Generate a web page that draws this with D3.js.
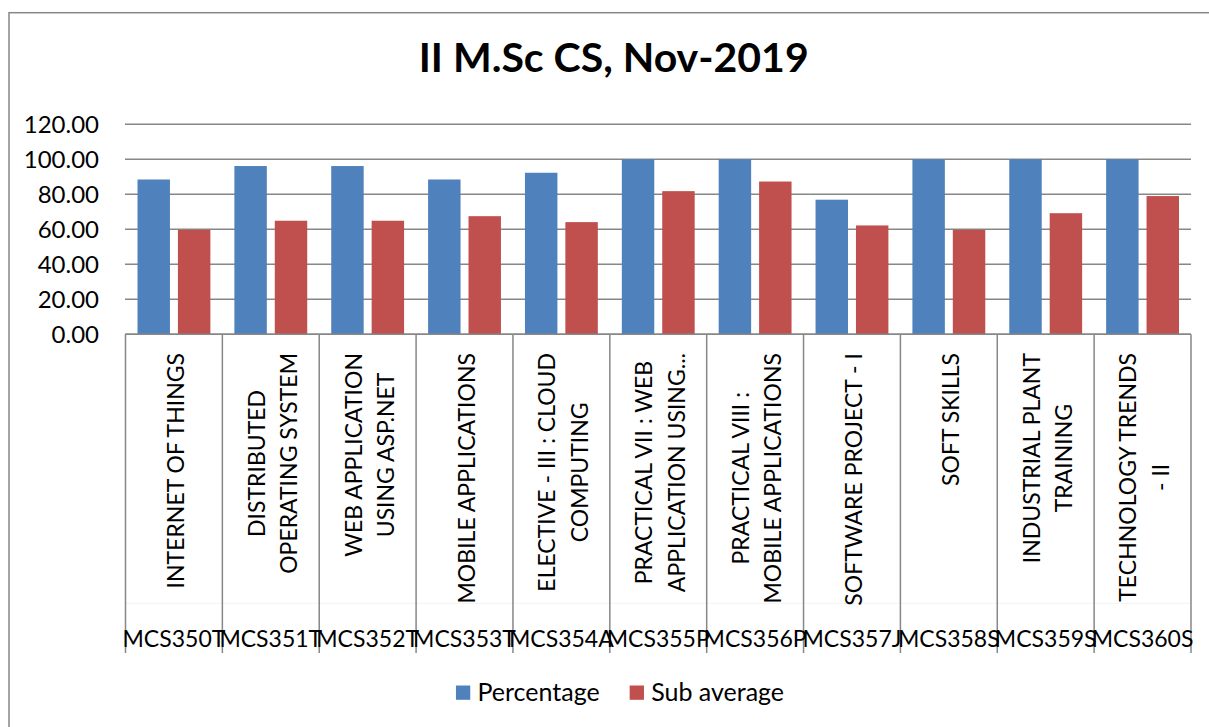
<!DOCTYPE html>
<html>
<head>
<meta charset="utf-8">
<script src="https://cdn.jsdelivr.net/npm/d3@7"></script>
<style>
  body { margin: 0; background: #fff; }
  text { font-family: "Lato", "Open Sans", sans-serif; fill: #000; }
</style>
</head>
<body>
<div id="chart"></div>
<script>
// data
var codes = ["MCS350T", "MCS351T", "MCS352T", "MCS353T", "MCS354A", "MCS355P",
  "MCS356P", "MCS357J", "MCS358S", "MCS359S", "MCS360S"];
var subjects = [
  ["INTERNET OF THINGS"],
  ["DISTRIBUTED", "OPERATING SYSTEM"],
  ["WEB APPLICATION", "USING ASP.NET"],
  ["MOBILE APPLICATIONS"],
  ["ELECTIVE - III : CLOUD", "COMPUTING"],
  ["PRACTICAL VII : WEB", "APPLICATION USING..."],
  ["PRACTICAL VIII :", "MOBILE APPLICATIONS"],
  ["SOFTWARE PROJECT - I"],
  ["SOFT SKILLS"],
  ["INDUSTRIAL PLANT", "TRAINING"],
  ["TECHNOLOGY TRENDS", "- II"]
];
var percentage = [88.46, 96.15, 96.15, 88.46, 92.31, 100, 100, 76.92, 100, 100, 100];
var subAverage = [59.7, 64.9, 64.9, 67.5, 64.1, 81.8, 87.3, 62.2, 59.7, 69.2, 79.0];
var seriesNames = ["Percentage", "Sub average"];
var yTicks = [0, 20, 40, 60, 80, 100, 120];

var svgWidth = 1209;
var svgHeight = 727;

var plot = { left: 125.5, right: 1191, top: 124.3, bottom: 334.3, axisBottom: 653 };
var colors = { "Percentage": "#4F81BD", "Sub average": "#C0504D" };
var gridColor = "#878787";

var svg = d3.select("#chart")
  .append("svg")
  .attr("width", svgWidth)
  .attr("height", svgHeight);

// outer chart border (runs off the right and bottom of the picture)
svg.append("rect")
  .attr("x", 9).attr("y", 12.7)
  .attr("width", 1300).attr("height", 800)
  .attr("fill", "none")
  .attr("stroke", gridColor)
  .attr("stroke-width", 1.5);

// title
svg.append("text")
  .attr("x", 613.7)
  .attr("y", 72)
  .attr("text-anchor", "middle")
  .style("font-size", "41px")
  .style("font-weight", "bold")
  .text("II M.Sc CS, Nov-2019");

// scales
var xScale = d3.scaleBand()
  .domain(codes)
  .range([plot.left, plot.right]);

var xSub = d3.scaleBand()
  .domain(seriesNames)
  .range([0, xScale.bandwidth()])
  .paddingInner(0.197)
  .paddingOuter(0.297);

var yScale = d3.scaleLinear()
  .domain([0, 120])
  .range([plot.bottom, plot.top]);

// gridlines
svg.append("g")
  .selectAll("line")
  .data(yTicks)
  .enter()
  .append("line")
  .attr("x1", plot.left - 0.5)
  .attr("x2", plot.right)
  .attr("y1", d => yScale(d))
  .attr("y2", d => yScale(d))
  .attr("stroke", gridColor)
  .attr("stroke-width", 1.5);

// y labels
var leftAxis = d3.axisLeft(yScale)
  .tickValues(yTicks)
  .tickFormat(d3.format(".2f"))
  .tickSize(0)
  .tickPadding(0);

var yAxisG = svg.append("g")
  .attr("transform", "translate(99, 0)")
  .call(leftAxis);
yAxisG.select(".domain").remove();
yAxisG.selectAll("text")
  .style("font-family", "Lato, sans-serif")
  .style("font-size", "24px")
  .attr("dy", "0.35em");

// bars
var rows = codes.map(function(c, i) {
  return { code: c, values: [
    { name: "Percentage", value: percentage[i] },
    { name: "Sub average", value: subAverage[i] }
  ] };
});

var groups = svg.append("g")
  .selectAll("g")
  .data(rows)
  .enter()
  .append("g")
  .attr("transform", d => `translate(${xScale(d.code)}, 0)`);

groups.selectAll("rect")
  .data(d => d.values)
  .enter()
  .append("rect")
  .attr("x", d => xSub(d.name))
  .attr("width", xSub.bandwidth())
  .attr("y", d => yScale(d.value))
  .attr("height", d => yScale(0) - yScale(d.value))
  .attr("fill", d => colors[d.name]);

// category axis: baseline, dividers, faint level separator
svg.append("line")
  .attr("x1", plot.left).attr("x2", plot.right)
  .attr("y1", plot.bottom).attr("y2", plot.bottom)
  .attr("stroke", gridColor).attr("stroke-width", 1.5);

svg.append("line")
  .attr("x1", plot.left).attr("x2", plot.right)
  .attr("y1", 603.3).attr("y2", 603.3)
  .attr("stroke", "#f3f3f3").attr("stroke-width", 1);

var bounds = codes.map(c => xScale(c)).concat([plot.right]);
svg.append("g")
  .selectAll("line")
  .data(bounds)
  .enter()
  .append("line")
  .attr("x1", d => d).attr("x2", d => d)
  .attr("y1", plot.bottom).attr("y2", plot.axisBottom)
  .attr("stroke", gridColor).attr("stroke-width", 1.5);

// subject names, rotated, lines centred, longest line hangs from the top
var labelTop = 353;
var lineGap = 32.5;
var capHalf = 8.6;

var subjG = svg.append("g");
subjects.forEach(function(lines, i) {
  var cx = xScale(codes[i]) + xScale.bandwidth() / 2 + 1.5;
  var texts = lines.map(function(line, j) {
    var bx = cx + (j - (lines.length - 1) / 2) * lineGap + capHalf;
    return subjG.append("text")
      .attr("text-anchor", "middle")
      .style("font-size", "23px")
      .attr("data-bx", bx)
      .text(line);
  });
  var maxLen = d3.max(texts, t => t.node().getComputedTextLength());
  var cy = labelTop + maxLen / 2;
  texts.forEach(function(t) {
    t.attr("transform", `translate(${t.attr("data-bx")}, ${cy}) rotate(-90)`);
  });
});

// codes (outer level)
svg.append("g")
  .selectAll("text")
  .data(codes)
  .enter()
  .append("text")
  .attr("x", d => xScale(d) + xScale.bandwidth() / 2)
  .attr("y", 646.7)
  .attr("text-anchor", "middle")
  .style("font-size", "23px")
  .text(d => d);

// legend
var legend = svg.append("g");
var lx = 0;
seriesNames.forEach(function(name, i) {
  legend.append("rect")
    .attr("x", lx).attr("y", 685.5)
    .attr("width", 14.3).attr("height", 14.3)
    .attr("fill", colors[name]);
  var t = legend.append("text")
    .attr("x", lx + 21.5)
    .attr("y", 700.7)
    .style("font-size", "25px")
    .text(name);
  lx += 21.5 + t.node().getComputedTextLength() + 30;
});
var legendW = lx - 30;
legend.attr("transform", `translate(${620 - legendW / 2}, 0)`);
</script>
</body>
</html>
